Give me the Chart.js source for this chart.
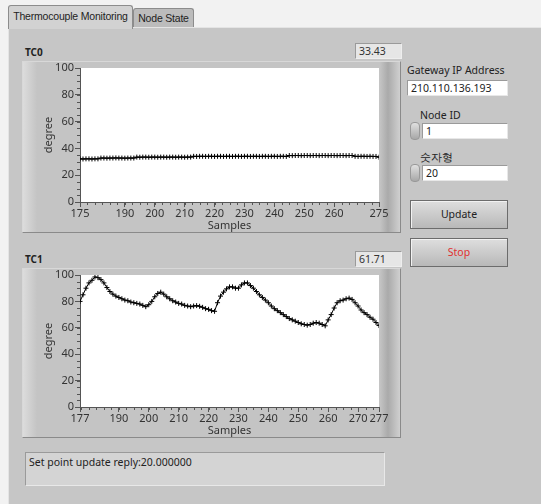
<!DOCTYPE html>
<html>
<head>
<meta charset="utf-8">
<script src="https://cdn.jsdelivr.net/npm/chart.js"></script>
<style>
  body { margin:0; width:541px; height:504px; background:#f2f2f2; font-family:"Noto Sans", sans-serif; font-size:11px; color:#222; overflow:hidden; position:relative; }
  .abs { position:absolute; }
  #panel { left:8px; top:27px; width:540px; height:480px; background:#c6c6c6; border-top:1px solid #e4e4e4; border-left:1px solid #e4e4e4; }
  .tab { position:absolute; border:1px solid #8c8c8c; border-bottom:none; border-radius:3px 3px 0 0; font-family:"Liberation Sans", sans-serif; font-size:10.5px; letter-spacing:-0.2px; text-align:center; white-space:nowrap; overflow:hidden; }
  #tab1 { left:8px; top:5px; width:123px; height:23px; line-height:20px; background:#d2d2d2; z-index:2; }
  #tab2 { left:133px; top:8px; width:59px; height:19px; line-height:19px; background:#bcbcbc; }
  .lbl { font-weight:bold; font-size:10px; }
  .num { background:#e6e6e6; border:1px solid #9a9a9a; border-right-color:#eee; border-bottom-color:#eee; height:14px; line-height:14px; padding-left:3px; font-size:10.5px; color:#333; }
  .frame { background:linear-gradient(to right,#dcdcdc 0px,#c4c4c4 14px,#c4c4c4 calc(100% - 20px),#aaaaaa calc(100% - 12px),#d0d0d0 100%); border:1px solid #d8d8d8; border-right-color:#8a8a8a; border-bottom-color:#8a8a8a; }
  .box { background:#fff; border:1px solid #9a9a9a; border-right-color:#e8e8e8; border-bottom-color:#e8e8e8; height:14px; line-height:14px; padding-left:3px; font-size:10.5px; }
  .spin { width:8px; height:16px; border-radius:4px; background:linear-gradient(#e0e0e0,#a8a8a8); border:1px solid #999; }
  .btn { background:linear-gradient(#dedede,#b8b8b8); border:1px solid #6c6c6c; box-shadow:inset 1px 1px 0 #f2f2f2; text-align:center; font-size:10.5px; }
</style>
</head>
<body>
<div class="tab" id="tab1">Thermocouple Monitoring</div>
<div class="tab" id="tab2">Node State</div>
<div class="abs" id="panel"></div>

<div class="abs lbl" style="left:25px;top:45px;">TC0</div>
<div class="abs num" style="left:355px;top:43px;width:42px;">33.43</div>
<div class="abs frame" style="left:22px;top:61px;width:377px;height:170px;"></div>
<div class="abs" style="left:38px;top:62px;"><canvas id="tc0" width="357" height="170"></canvas></div>

<div class="abs lbl" style="left:25px;top:252px;">TC1</div>
<div class="abs num" style="left:355px;top:251px;width:42px;">61.71</div>
<div class="abs frame" style="left:22px;top:268px;width:377px;height:168px;"></div>
<div class="abs" style="left:38px;top:269px;"><canvas id="tc1" width="357" height="168"></canvas></div>

<div class="abs" style="left:25px;top:452px;width:360px;height:34px;background:#d4d4d4;border:1px solid #e8e8e8;border-top-color:#9a9a9a;border-left-color:#9a9a9a;padding:2px 3px;box-sizing:border-box;font-size:10.5px;">Set point update reply:20.000000</div>

<div class="abs" style="left:407px;top:63px;font-size:10.5px;">Gateway IP Address</div>
<div class="abs box" style="left:407px;top:80px;width:96px;">210.110.136.193</div>
<div class="abs" style="left:420px;top:108px;font-size:10.5px;">Node ID</div>
<div class="abs spin" style="left:410px;top:122px;"></div>
<div class="abs box" style="left:422px;top:123px;width:81px;">1</div>
<div class="abs" style="left:420px;top:150px;font-size:10.5px;">숫자형</div>
<div class="abs spin" style="left:410px;top:164px;"></div>
<div class="abs box" style="left:422px;top:165px;width:81px;">20</div>
<div class="abs btn" style="left:410px;top:200px;width:96px;height:27px;line-height:27px;">Update</div>
<div class="abs btn" style="left:410px;top:238px;width:96px;height:27px;line-height:27px;color:#e03030;">Stop</div>

<script>
// TC0: samples 175..275 (101 points)
const tc0Start = 175;
const tc0Values = [
  // 175-181
  32.2, 32.1, 32.2, 32.2, 32.1, 32.2, 32.2,
  // 182-193
  32.8, 32.8, 32.7, 32.8, 32.8, 32.9, 32.8, 32.8, 32.7, 32.8, 32.8, 32.8,
  // 194-212
  33.5, 33.4, 33.5, 33.5, 33.4, 33.5, 33.5, 33.4, 33.5, 33.5, 33.4, 33.5, 33.5, 33.4, 33.5, 33.5, 33.4, 33.5, 33.5,
  // 213-244
  34.1, 34.0, 34.1, 34.1, 34.0, 34.1, 34.1, 34.0, 34.1, 34.1, 34.0, 34.1, 34.1, 34.0, 34.1, 34.1,
  34.0, 34.1, 34.1, 34.0, 34.1, 34.1, 34.0, 34.1, 34.1, 34.0, 34.1, 34.1, 34.0, 34.1, 34.1, 34.0,
  // 245-266
  34.7, 34.6, 34.7, 34.7, 34.6, 34.7, 34.7, 34.6, 34.7, 34.7, 34.6, 34.7, 34.7, 34.6, 34.7, 34.7, 34.6, 34.7, 34.7, 34.6, 34.7, 34.7,
  // 267-274
  34.1, 34.0, 34.1, 34.1, 34.0, 34.1, 34.0, 34.0,
  // 275
  33.43
];
const tc0Ticks = [175, 190, 200, 210, 220, 230, 240, 250, 260, 275];

// TC1: samples 177..277 (101 points)
const tc1Start = 177;
const tc1Values = [
  80, 85, 90, 94, 96, 98.5, 98, 96.5, 94, 90.5,
  87.5, 85.5, 84, 83, 82, 81, 80.5, 79.5, 79, 78.5,
  78, 77, 76, 77.5, 80, 83.5, 86, 87, 85.5, 83.5,
  82, 80.5, 79.5, 78.5, 78, 77, 76.5, 76, 76.5, 76.8,
  76.3, 75.5, 74.5, 74, 73, 72.5, 79, 84, 87, 89.5,
  91, 91, 90, 90, 92.5, 94, 94, 92, 90, 87.5,
  85, 83, 81, 79, 76.5, 74.5, 73, 71.5, 70, 68.5,
  67, 66, 65, 64, 63, 62.5, 62, 62.5, 63.5, 64,
  63.5, 62.5, 61.5, 66, 70, 75, 79, 80.5, 81, 82,
  82.5, 81.5, 79, 76.5, 73.5, 71.5, 70, 68, 66.5, 64,
  61.71
];
const tc1Ticks = [177, 190, 200, 210, 220, 230, 240, 250, 260, 270, 277];

const yTicks = [0, 20, 40, 60, 80, 100];

const axisColor = '#555';
const textColor = '#333';
const font = { family: 'Noto Sans', size: 11 };

const panelPlugin = {
  id: 'panel',
  beforeDraw(chart) {
    const a = chart.chartArea;
    const ctx = chart.ctx;
    ctx.save();
    ctx.fillStyle = '#ffffff';
    ctx.fillRect(a.left, a.top, a.right - a.left, a.bottom - a.top);
    ctx.restore();
  },
  afterDraw(chart) {
    // small ticks between the labelled ones
    const ctx = chart.ctx;
    const x = chart.scales.x, y = chart.scales.y;
    ctx.save();
    ctx.strokeStyle = axisColor;
    ctx.lineWidth = 1;
    ctx.beginPath();
    for (let v = Math.ceil(x.min / 2.5) * 2.5; v <= x.max; v += 2.5) {
      const px = Math.round(x.getPixelForValue(v)) + 0.5;
      ctx.moveTo(px, y.bottom);
      ctx.lineTo(px, y.bottom + 3);
    }
    for (let v = 0; v <= 100; v += 5) {
      const py = Math.round(y.getPixelForValue(v)) + 0.5;
      ctx.moveTo(x.left, py);
      ctx.lineTo(x.left - 3, py);
    }
    ctx.stroke();
    ctx.restore();
  }
};

function makeGraph(id, start, values, xTicks) {
  const pts = values.map((v, i) => ({ x: start + i, y: v }));
  return new Chart(document.getElementById(id), {
    type: 'line',
    data: {
      datasets: [{
        data: pts,
        borderColor: '#000',
        borderWidth: 1,
        pointStyle: 'cross',
        pointRadius: 2.5,
        pointBorderColor: '#000',
        pointBorderWidth: 1,
        tension: 0
      }]
    },
    options: {
      responsive: false,
      animation: false,
      layout: { padding: { left: 0, right: 16, top: 6, bottom: 0 } },
      plugins: { legend: { display: false }, tooltip: { enabled: false } },
      scales: {
        x: {
          type: 'linear',
          min: xTicks[0],
          max: xTicks[xTicks.length - 1],
          afterBuildTicks: (s) => { s.ticks = xTicks.map(v => ({ value: v })); },
          afterFit: (s) => { s.height = 30; s.paddingLeft = 0; s.paddingRight = 0; },
          ticks: { autoSkip: false, maxRotation: 0, color: textColor, font: font, padding: 0 },
          grid: { drawOnChartArea: false, tickLength: 5, color: axisColor },
          border: { color: axisColor },
          title: { display: true, text: 'Samples', color: textColor, font: font, padding: 0 }
        },
        y: {
          min: 0,
          max: 100,
          afterBuildTicks: (s) => { s.ticks = yTicks.map(v => ({ value: v })); },
          afterFit: (s) => { s.width = 42; s.paddingTop = 0; s.paddingBottom = 0; },
          ticks: { color: textColor, font: font, padding: 1 },
          grid: { drawOnChartArea: false, tickLength: 5, color: axisColor },
          border: { color: axisColor },
          title: { display: true, text: 'degree', color: textColor, font: font, padding: { top: 4, bottom: 0 } }
        }
      }
    },
    plugins: [panelPlugin]
  });
}

makeGraph('tc0', tc0Start, tc0Values, tc0Ticks);
makeGraph('tc1', tc1Start, tc1Values, tc1Ticks);
</script>
</body>
</html>
